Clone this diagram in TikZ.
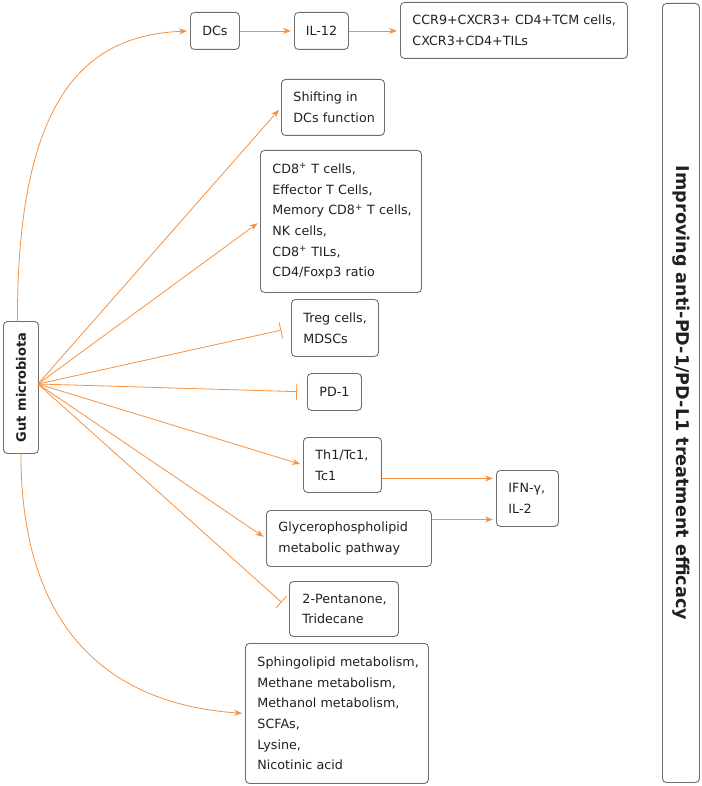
\documentclass[tikz,border=0pt]{standalone}
\usepackage{fontspec}
\setmainfont{DejaVu Sans}
\usetikzlibrary{arrows.meta}
\definecolor{og}{HTML}{F7903F}
\definecolor{bx}{HTML}{6E6E6E}
\definecolor{tx}{HTML}{231F20}
\newcommand{\oneline}[1]{\mbox{#1}}
\begin{document}
\begin{tikzpicture}[x=1pt,y=-1pt,
  box/.style={draw=bx, line width=0.9pt, rounded corners=4pt, anchor=north west,
    inner xsep=12pt, inner ysep=0pt, text=tx, font=\fontsize{12.7}{20.7}\selectfont, align=left},
  cbox/.style={box, align=center, inner xsep=0pt},
  act/.style={draw=og, line width=0.8pt, -{Stealth[length=8pt,width=6pt]}, shorten >=3pt},
  inh/.style={draw=og, line width=0.8pt, -{Bar[width=16pt,line width=0.8pt]}, shorten >=10pt}]
\useasboundingbox (0,0) rectangle (701,786);

\node[cbox, minimum width=49pt, minimum height=37pt] (dcs) at (190,12) {DCs};
\node[cbox, minimum width=54pt, minimum height=37pt] (il12) at (294,12) {IL-12};
\node[box, minimum width=227pt, minimum height=56pt, text width=203pt] (ccr) at (400,2)
  {\oneline{CCR9+CXCR3+ CD4+TCM cells,}\\\oneline{CXCR3+CD4+TILs}};
\node[box, minimum width=103pt, minimum height=56pt, text width=79pt] (shift) at (281,79)
  {\oneline{Shifting in}\\\oneline{DCs function}};
\node[box, minimum width=161pt, minimum height=142pt, text width=137pt] (cd8) at (260,150)
  {\oneline{CD8\textsuperscript{+} T cells,}\\\oneline{Effector T Cells,}\\\oneline{Memory CD8\textsuperscript{+} T cells,}\\\oneline{NK cells,}\\\oneline{CD8\textsuperscript{+} TILs,}\\\oneline{CD4/Foxp3 ratio}};
\node[box, minimum width=87pt, minimum height=57pt, text width=63pt] (treg) at (291,299)
  {\oneline{Treg cells,}\\\oneline{MDSCs}};
\node[cbox, minimum width=54pt, minimum height=37pt] (pd1) at (307,373) {PD-1};
\node[box, minimum width=78pt, minimum height=55pt, text width=54pt] (th1) at (303,437)
  {\oneline{Th1/Tc1,}\\\oneline{Tc1}};
\node[box, minimum width=62pt, minimum height=56pt, text width=38pt] (ifn) at (496,470)
  {\oneline{IFN-γ,}\\\oneline{IL-2}};
\node[box, minimum width=165pt, minimum height=56pt, text width=141pt] (gly) at (266,510)
  {\oneline{Glycerophospholipid}\\\oneline{metabolic pathway}};
\node[box, minimum width=109pt, minimum height=55pt, inner xsep=13pt, text width=83pt] (pent) at (289,581)
  {\oneline{2-Pentanone,}\\\oneline{Tridecane}};
\node[box, minimum width=183pt, minimum height=140pt, text width=159pt] (sph) at (245,643)
  {\oneline{Sphingolipid metabolism,}\\\oneline{Methane metabolism,}\\\oneline{Methanol metabolism,}\\\oneline{SCFAs,}\\\oneline{Lysine,}\\\oneline{Nicotinic acid}};
\node[cbox, minimum width=35pt, minimum height=132pt] (gut) at (3,321)
  {\rotatebox{90}{\fontsize{13}{16}\selectfont\bfseries Gut microbiota}};
\node[cbox, minimum width=37pt, minimum height=779pt] (eff) at (662,3)
  {\rotatebox{-90}{\fontsize{17.6}{20}\selectfont\bfseries Improving anti-PD-1/PD-L1 treatment efficacy}};

\coordinate (src) at (38,384);

\draw[act] ([xshift=-3.5pt]gut.north) .. controls (17,90) and (90,35) .. (dcs.west);
\draw[act] (dcs) -- (il12);
\draw[act] (il12.east) -- (il12.east -| ccr.west);
\draw[act] (src) -- (shift.west);
\draw[act] (src) -- (cd8.west);
\draw[inh] (src) -- (treg.west);
\draw[inh] (src) -- (pd1.west);
\draw[act] (src) -- (th1.west);
\draw[act] (src) -- (gly.west);
\draw[inh] (src) -- (pent.west);
\draw[act] (gut.south) .. controls (21,640) and (120,705) .. (sph.west);
\draw[act] ([yshift=-13.5pt]th1.east) -- ([yshift=-13.5pt]th1.east -| ifn.west);
\draw[act] ([yshift=19pt]gly.east) -- ([yshift=19pt]gly.east -| ifn.west);
\end{tikzpicture}
\end{document}
